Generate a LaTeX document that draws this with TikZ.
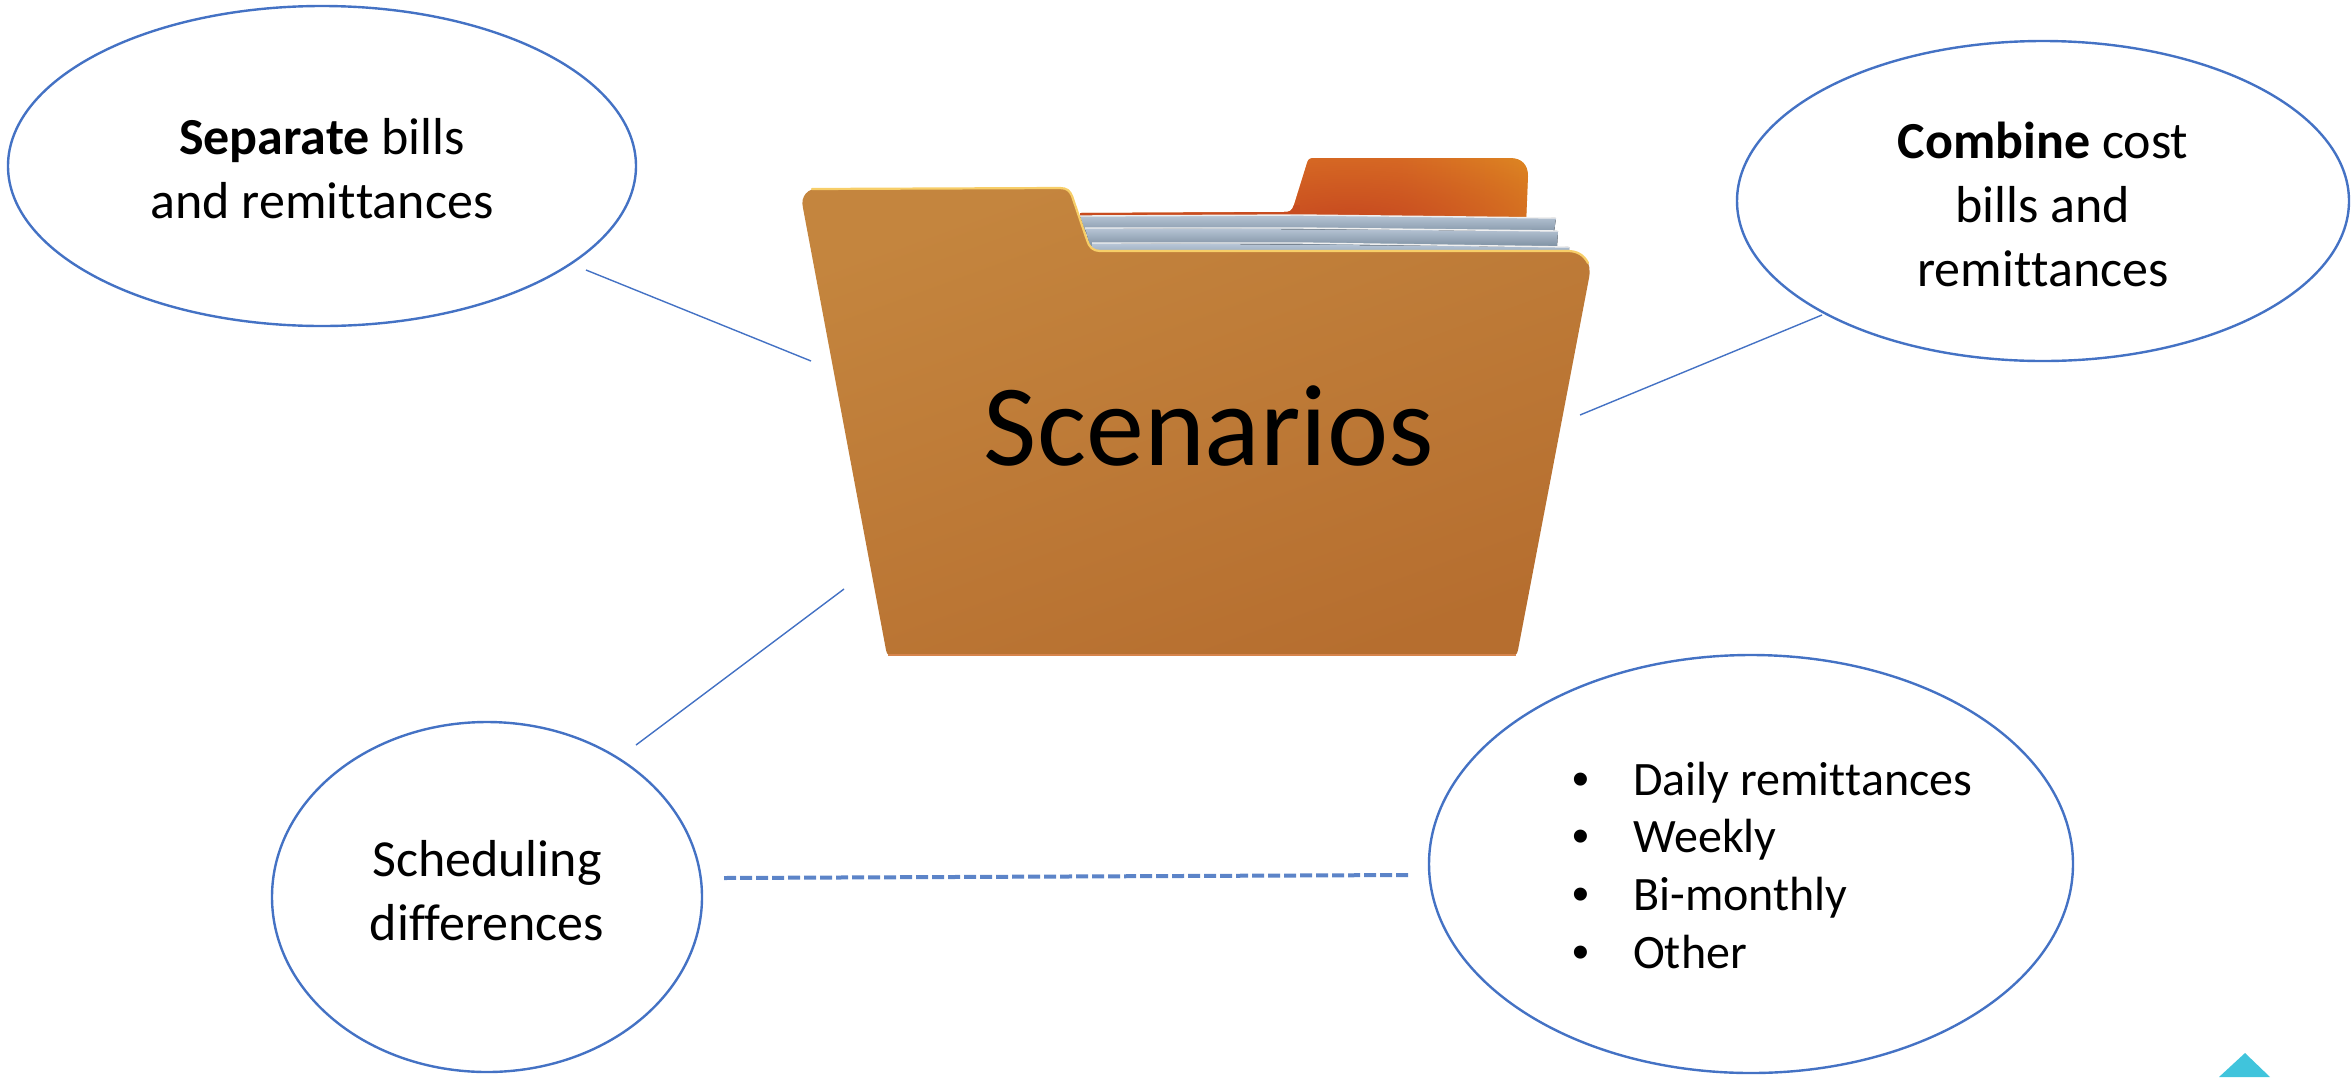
\documentclass[tikz,border=0pt]{standalone}
\usepackage{fontspec}
\setmainfont{Carlito}
\newfontfamily\bulletfont{Liberation Sans}
\usetikzlibrary{shapes.geometric,fadings}
\tikzfading[name=tabglow,inner color=transparent!0,outer color=transparent!100]
\definecolor{linkblue}{HTML}{4472C4}
\newcommand{\noligature}{\kern0pt }
\tikzset{
  bubble/.style={ellipse,draw=linkblue,line width=1.2pt,inner sep=0pt},
  bubbletext/.style={align=center,inner sep=0pt,font=\fontsize{26}{32}\selectfont},
  thinlink/.style={draw=linkblue,line width=0.7pt},
  dashlink/.style={draw={rgb,255:red,92;green,132;blue,200},line width=2pt,dash pattern=on 6pt off 2pt},
  sheetedge/.style={draw=white!88!gray,line width=0.7pt},
}
\begin{document}
\begin{tikzpicture}[x=0.5pt,y=-0.5pt]
\useasboundingbox (0,0) rectangle (2351,1077);
% back tab
\begin{scope}
\clip (1080,213) -- (1284,212) .. controls (1290,212) and (1292,211) .. (1294,205) -- (1307,163) .. controls (1308,159) and (1310,158) .. (1314,158) -- (1510,158) .. controls (1522,158) and (1528,165) .. (1528,176) -- (1526,225) -- (1080,225) -- cycle;
\shade[left color={rgb,255:red,224;green,124;blue,38},right color={rgb,255:red,228;green,152;blue,34}] (1400,150) rectangle (1535,230);
\fill[fill={rgb,255:red,224;green,124;blue,38}] (1070,150) rectangle (1400.5,230);
\fill[fill={rgb,255:red,198;green,72;blue,32},path fading=tabglow] (1010,115) rectangle (1690,335);
\fill[fill={rgb,255:red,200;green,76;blue,32}] (1070,205) rectangle (1300,230);
\end{scope}
% sheets
\fill[top color={rgb,255:red,184;green,198;blue,214},bottom color={rgb,255:red,134;green,152;blue,170}] (1080,216) -- (1300,215) -- (1556,218) -- (1554,232) -- (1085,232) -- cycle;
\draw[sheetedge] (1080,216) -- (1300,215) -- (1556,218);
\fill[top color={rgb,255:red,184;green,198;blue,214},bottom color={rgb,255:red,128;green,146;blue,164}] (1085,228) -- (1558,231) -- (1557,246) -- (1090,246) -- cycle;
\draw[sheetedge] (1085,228) -- (1300,228) -- (1558,231);
\fill[top color={rgb,255:red,186;green,200;blue,216},bottom color={rgb,255:red,156;green,174;blue,194}] (1092,243) -- (1569,247) -- (1569,252) -- (1092,252) -- cycle;
\draw[sheetedge] (1092,243) -- (1300,243) -- (1569,247);
% front of the folder
\shade[top color={rgb,255:red,196;green,133;blue,62},bottom color={rgb,255:red,182;green,110;blue,47},shading angle=20]
  (820,188) -- (1060,188) .. controls (1067,188) and (1070,191) .. (1072,196) -- (1087,240) .. controls (1089,247) and (1093,251) .. (1100,251) -- (1568,251) .. controls (1584,251) and (1592,262) .. (1589,278) -- (1518,650) .. controls (1517,654) and (1516,655) .. (1514,655) -- (890,655) .. controls (888,655) and (887,654) .. (886,650) -- (803,208) .. controls (800,196) and (808,188) .. (820,188) -- cycle;
\draw[draw={rgb,255:red,247;green,206;blue,104},line width=1.1pt,line cap=round]
  (812,189) -- (1060,188) .. controls (1067,188) and (1070,191) .. (1072,196) -- (1087,240) .. controls (1089,247) and (1093,251) .. (1100,251) -- (1568,251) .. controls (1577,251) and (1584,255) .. (1588,263);
\draw[draw={rgb,255:red,214;green,132;blue,76},line width=0.6pt] (888,655) -- (1516,655);
% label
\node[font=\fontsize{58}{70}\selectfont] (title) at (1209,426) {Scenarios};
% bubbles
\node[bubble,minimum width=314pt,minimum height=160pt] (sep) at (322,166) {};
\node[bubbletext] (septext) at (322,169) {\textbf{Separate} bills\\and remit\noligature tances};
\node[bubble,minimum width=306pt,minimum height=160pt] (comb) at (2043,201) {};
\node[bubbletext] (combtext) at (2043,204) {\textbf{Combine} cost\\bills and\\remit\noligature tances};
\node[bubble,minimum width=215pt,minimum height=175pt] (sched) at (487,897) {};
\node[bubbletext] (schedtext) at (487,891) {Scheduling\\dif\noligature ferences};
\node[bubble,minimum width=322pt,minimum height=209pt] (freq) at (1751,864) {};
\node[anchor=west,inner sep=0pt,font=\fontsize{24}{28.85}\selectfont] (freqlist) at (1572,870) {%
  \begin{tabular}{@{}l@{\hspace{22pt}}l@{}}
  {\bulletfont •}&Daily remit\noligature tances\\ {\bulletfont •}&Weekly\\ {\bulletfont •}&Bi-monthly\\ {\bulletfont •}&Other
  \end{tabular}};
% connector ends
\coordinate (a1) at (586,270); \coordinate (a2) at (811,361);
\coordinate (b1) at (1822,315); \coordinate (b2) at (1580,415);
\coordinate (c1) at (844,589); \coordinate (c2) at (636,745);
\coordinate (d1) at (724,878); \coordinate (d2) at (1408,875);
\draw[thinlink] (a1) -- (a2);
\draw[thinlink] (b1) -- (b2);
\draw[thinlink] (c1) -- (c2);
\draw[dashlink] (d1) -- (d2);
% corner mark
\fill[fill={rgb,255:red,64;green,196;blue,220}] (2245,1053) -- (2270,1077) -- (2219,1077) -- cycle;
\end{tikzpicture}
\end{document}
